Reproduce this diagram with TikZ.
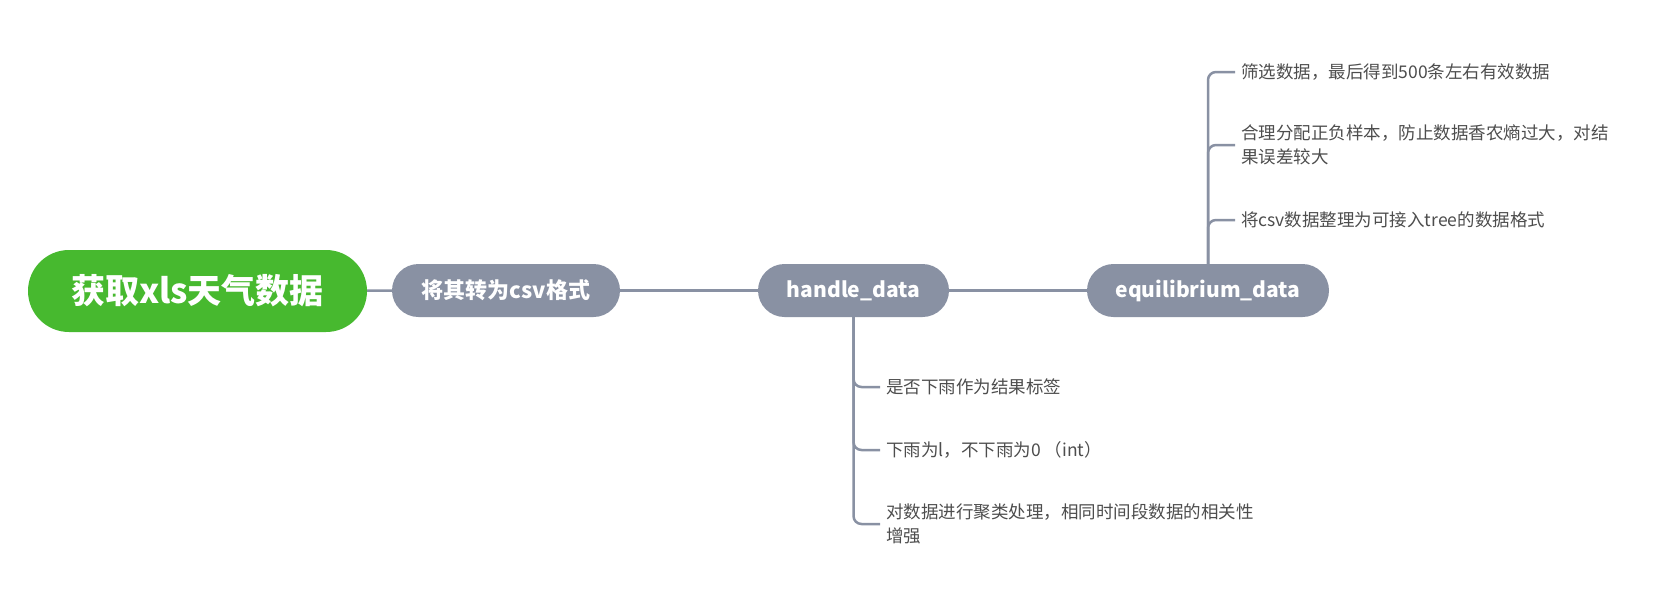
\documentclass[tikz,border=0pt]{standalone}
\usepackage{fontspec}
\setmainfont{Noto Sans CJK SC}
\definecolor{rootgreen}{HTML}{47B92F}
\definecolor{topicgray}{HTML}{8991A3}
\definecolor{leaftext}{HTML}{4D4D4D}
\tikzset{
  topic/.style={fill=topicgray, text=white, inner sep=0pt, minimum height=53pt,
    rounded corners=26.5pt, font=\bfseries\fontsize{21}{25}\selectfont},
  roottopic/.style={topic, fill=rootgreen, minimum height=82pt,
    rounded corners=41pt, font=\bfseries\fontsize{34}{38}\selectfont},
  leaf/.style={anchor=west, align=left, inner xsep=6pt, inner ysep=0pt,
    text=leaftext, font=\fontsize{17.5}{24}\selectfont},
  conn/.style={draw=topicgray, line width=2.5pt},
  branch/.style={conn, rounded corners=8pt}
}
\begin{document}
\begin{tikzpicture}[x=1pt, y=-1pt]
    \useasboundingbox (0,0) rectangle (1667,611);
    % main topics
        \node[roottopic, minimum width=339pt] (root) at (197.5,291) {获取xls天气数据};
        \node[topic, minimum width=228pt, font=\bfseries\fontsize{22}{26}\selectfont] (csv) at (506,290.5) {将其转为csv格式};
        \node[topic, minimum width=191pt] (handle) at (853.5,290.5) {handle\_data};
        \node[topic, minimum width=242pt] (equi) at (1208,290.5) {equilibrium\_data};
        \draw[conn] (root) -- (csv);
        \draw[conn] (csv) -- (handle);
        \draw[conn] (handle) -- (equi);
    % details of equilibrium_data
        \foreach \n/\y/\txt in {e1/72/{筛选数据，最后得到500条左右有效数据},
                e2/145/{合理分配正负样本，防止数据香农熵过大，对结\\果误差较大},
                e3/220/{将csv数据整理为可接入tree的数据格式}}{
            \node[leaf] (\n) at (1235,\y) {\txt};
            \draw[branch] (equi.north) |- (\n.west);
        }
    % details of handle_data
        \foreach \n/\y/\txt in {h1/387/{是否下雨作为结果标签},
                h2/450/{下雨为l，不下雨为0 （int）},
                h3/524/{对数据进行聚类处理，相同时间段数据的相关性\\增强}}{
            \node[leaf] (\n) at (880,\y) {\txt};
            \draw[branch] (handle.south) |- (\n.west);
        }
\end{tikzpicture}
\end{document}
